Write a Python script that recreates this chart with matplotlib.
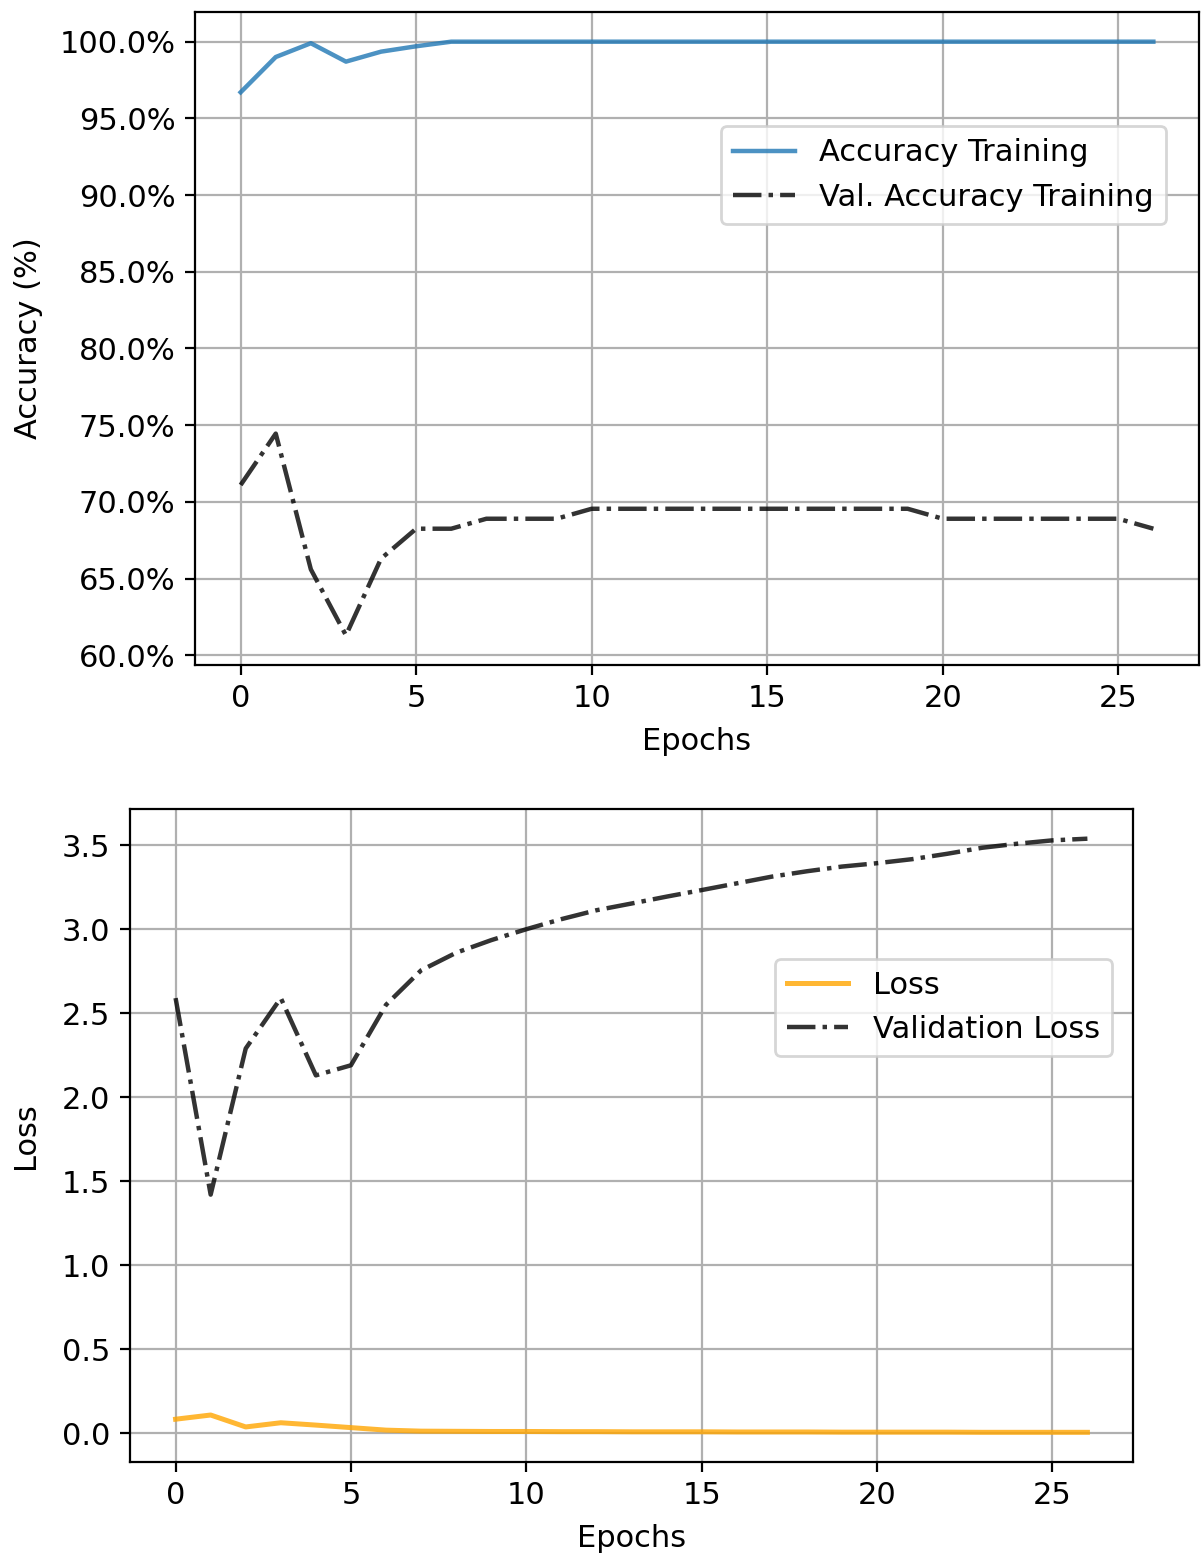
import matplotlib
matplotlib.use("Agg")
import matplotlib.pyplot as plt
from matplotlib.ticker import PercentFormatter

# Epochen
epochs = list(range(27))

# Genauigkeit (in %)
acc = [96.7, 99.0, 99.9, 98.7, 99.35, 99.7, 100.0, 100.0, 100.0, 100.0,
       100.0, 100.0, 100.0, 100.0, 100.0, 100.0, 100.0, 100.0, 100.0, 100.0,
       100.0, 100.0, 100.0, 100.0, 100.0, 100.0, 100.0]
val_acc = [71.1, 74.45, 65.6, 61.3, 66.3, 68.25, 68.25, 68.9, 68.9, 68.9,
           69.55, 69.55, 69.55, 69.55, 69.55, 69.55, 69.55, 69.55, 69.55, 69.55,
           68.9, 68.9, 68.9, 68.9, 68.9, 68.9, 68.25]

# Loss
loss = [0.083, 0.108, 0.037, 0.062, 0.048, 0.033, 0.018, 0.012, 0.011, 0.010,
        0.010, 0.009, 0.009, 0.008, 0.008, 0.008, 0.007, 0.007, 0.007, 0.006,
        0.006, 0.006, 0.006, 0.005, 0.005, 0.005, 0.005]
val_loss = [2.59, 1.42, 2.29, 2.59, 2.13, 2.19, 2.55, 2.755, 2.86, 2.935,
            3.00, 3.06, 3.113, 3.153, 3.194, 3.233, 3.273, 3.313, 3.345, 3.373,
            3.393, 3.417, 3.449, 3.485, 3.509, 3.529, 3.539]

W, H, dpi = 1204, 1558, 200
plt.rcParams['font.size'] = 11
fig = plt.figure(figsize=(W / dpi, H / dpi), dpi=dpi)


def px_axes(x0, y0, x1, y1):
    return fig.add_axes([x0 / W, 1 - y1 / H, (x1 - x0) / W, (y1 - y0) / H])


# Oben: Accuracy
ax1 = px_axes(195, 12, 1199, 665)
ax1.plot(epochs, acc, color="C0", alpha=0.8, lw=1.6, label="Accuracy Training")
ax1.plot(epochs, val_acc, color="black", alpha=0.8, lw=1.6, ls="-.",
         label="Val. Accuracy Training")
ax1.yaxis.set_major_formatter(PercentFormatter(decimals=1))
ax1.set_xlabel("Epochs", labelpad=5)
ax1.set_ylabel("Accuracy (%)", labelpad=6)
ax1.grid(True)
ax1.legend(loc="upper right", bbox_to_anchor=(0.967, 0.825), borderaxespad=0)

# Unten: Loss
ax2 = px_axes(130, 809, 1133, 1462)
ax2.plot(epochs, loss, color="orange", alpha=0.8, lw=1.8, label="Loss")
ax2.plot(epochs, val_loss, color="black", alpha=0.8, lw=1.6, ls="-.",
         label="Validation Loss")
ax2.set_xlabel("Epochs", labelpad=5)
ax2.set_ylabel("Loss", labelpad=8)
ax2.grid(True)
ax2.legend(loc="upper right", bbox_to_anchor=(0.979, 0.771), borderaxespad=0)

fig.savefig("out.png", dpi=dpi)
